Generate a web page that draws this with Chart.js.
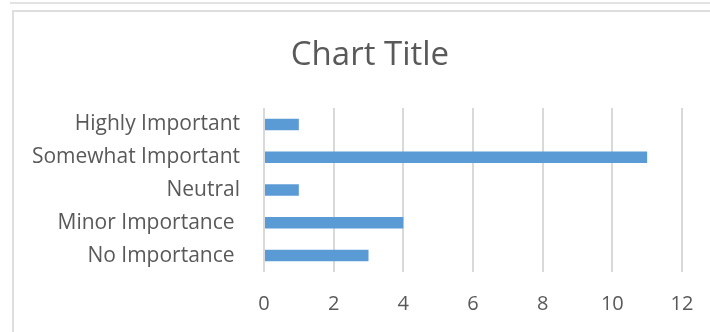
<!DOCTYPE html>
<html>
<head>
<meta charset="utf-8">
<script src="https://cdn.jsdelivr.net/npm/chart.js@4.4.1/dist/chart.umd.min.js"></script>
<style>
  body { margin: 0; background: #fff; }
  #wrap { position: relative; width: 710px; height: 332px; overflow: hidden; }
  #topline { position: absolute; left: 10px; top: 2px; right: 0; border-top: 2px solid #e3e3e3; }
  #box { position: absolute; left: 12px; top: 10px; right: -4px; bottom: -4px; border-left: 2px solid #dedede; border-top: 2px solid #dedede; }
  #title { position: absolute; left: 170px; width: 400px; top: 30px; text-align: center; font: 33px 'Open Sans'; color: #595959; }
  canvas { position: absolute; left: 0; top: 0; }
</style>
</head>
<body>
<div id="wrap">
  <div id="topline"></div>
  <div id="box"></div>
  <canvas id="mychart" width="710" height="332"></canvas>
  <div id="title">Chart Title</div>
</div>
<script>
let categories = ['Highly Important', 'Somewhat Important', 'Neutral', 'Minor Importance ', 'No Importance ']
let values = [1, 11, 1, 4, 3]
let tickValues = [0, 2, 4, 6, 8, 10, 12]

let textColor = '#595959'
let ctx = document.getElementById('mychart').getContext('2d')
let myChart = new Chart(ctx, {
  type: 'bar',
  data: {
    labels: categories,
    datasets: [{
      label: 'Series1',
      data: values,
      backgroundColor: '#5b9bd5',
      barPercentage: 0.7,
      categoryPercentage: 0.5
    }]
  },
  options: {
    indexAxis: 'y',
    responsive: false,
    animation: false,
    // title is the html div above, so the plot just starts lower down
    layout: { padding: { left: 0, right: 28, top: 108, bottom: 0 } },
    plugins: {
      legend: { display: false },
      tooltip: { enabled: false },
      title: { display: false }
    },
    scales: {
      x: {
        min: tickValues[0],
        max: tickValues[tickValues.length - 1],
        afterBuildTicks: function(scale) {
          scale.ticks = tickValues.map(v => ({ value: v }))
        },
        afterFit: function(scale) {
          scale.height = 60
          scale.paddingRight = 0
        },
        grid: { color: '#d9d9d9', lineWidth: 2, drawTicks: false },
        border: { display: false },
        ticks: {
          color: textColor,
          padding: 20,
          font: { family: 'Open Sans', size: 20 }
        }
      },
      y: {
        afterFit: function(scale) { scale.width = 264 },
        grid: { display: false, drawTicks: false },
        border: { display: false },
        ticks: {
          color: textColor,
          padding: 24,
          font: { family: 'Open Sans', size: 21 }
        }
      }
    }
  }
})
</script>
</body>
</html>
